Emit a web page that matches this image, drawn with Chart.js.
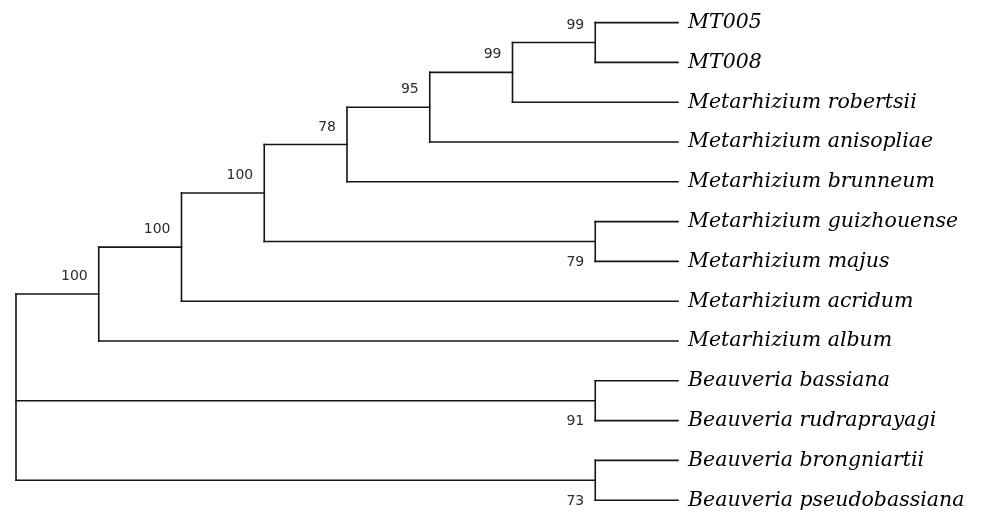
<!DOCTYPE html>
<html>
<head>
<meta charset="utf-8">
<script src="https://cdn.jsdelivr.net/npm/chart.js@4/dist/chart.umd.min.js"></script>
<style>
  html, body { margin: 0; padding: 0; background: #fff; }
  #wrap { width: 983px; height: 512px; }
</style>
</head>
<body>
<div id="wrap"><canvas id="tree" width="983" height="512"></canvas></div>
<script>
// Taxa, top to bottom
const taxa = [
  'MT005',
  'MT008',
  'Metarhizium robertsii',
  'Metarhizium anisopliae',
  'Metarhizium brunneum',
  'Metarhizium guizhouense',
  'Metarhizium majus',
  'Metarhizium acridum',
  'Metarhizium album',
  'Beauveria bassiana',
  'Beauveria rudraprayagi',
  'Beauveria brongniartii',
  'Beauveria pseudobassiana'
];

// Clades: children are taxon indices (numbers) or clade ids ('c#')
const clades = [
  [0, 1],            // c0
  ['c0', 2],         // c1
  ['c1', 3],         // c2
  ['c2', 4],         // c3
  [5, 6],            // c4
  ['c3', 'c4'],      // c5
  ['c5', 7],         // c6
  ['c6', 8],         // c7
  [9, 10],           // c8
  [11, 12],          // c9
  ['c7', 'c8', 'c9'] // c10 (root)
];

// Bootstrap support per clade (root has none)
const support = [99, 99, 95, 78, 79, 100, 100, 100, 91, 73, null];

const ROOT = 'c10';

// ---- layout (topology only: tips aligned, nodes placed by height) ----
const nodes = {};
function place(ref) {
  if (typeof ref === 'number') {
    return nodes['t' + ref] = { id: 't' + ref, tip: ref, y: ref, height: 0, kids: [] };
  }
  const idx = +ref.slice(1);
  const kids = clades[idx].map(place);
  const n = {
    id: ref,
    clade: idx,
    kids,
    y: (kids[0].y + kids[kids.length - 1].y) / 2,
    height: 1 + Math.max(...kids.map(k => k.height))
  };
  kids.forEach((k, i) => { k.parent = n; k.order = i; });
  return nodes[ref] = n;
}
const root = place(ROOT);
const depth = root.height;
Object.values(nodes).forEach(n => { n.x = depth - n.height; });

// ---- branch segments as line datasets ----
const ink = '#151515';
const datasets = [];
function seg(a, b) {
  datasets.push({
    data: [a, b],
    showLine: true,
    borderColor: ink,
    borderWidth: 1.6,
    borderCapStyle: 'square',
    pointRadius: 0,
    pointHoverRadius: 0,
    fill: false
  });
}
Object.values(nodes).forEach(n => {
  if (n.parent) seg({ x: n.parent.x, y: n.y }, { x: n.x, y: n.y });
  if (n.kids.length) seg({ x: n.x, y: n.kids[0].y }, { x: n.x, y: n.kids[n.kids.length - 1].y });
});

// ---- labels ----
const labelPlugin = {
  id: 'treeLabels',
  afterDatasetsDraw(chart) {
    const { ctx, scales: { x, y } } = chart;
    ctx.save();
    // taxon names
    ctx.fillStyle = '#000';
    ctx.font = 'italic 20.5px "DejaVu Serif"';
    ctx.textAlign = 'left';
    ctx.textBaseline = 'middle';
    const tipX = x.getPixelForValue(depth) + 10;
    taxa.forEach((name, i) => ctx.fillText(name, tipX, y.getPixelForValue(i)));
    // bootstrap values
    ctx.fillStyle = '#2b2b2b';
    ctx.font = '14px "DejaVu Sans"';
    ctx.textAlign = 'right';
    Object.values(nodes).forEach(n => {
      if (n.clade === undefined) return;
      const v = support[n.clade];
      if (v == null) return;
      const px = x.getPixelForValue(n.x) - 11;
      const py = y.getPixelForValue(n.y) + (n.order === 0 ? -17.5 : 21);
      ctx.fillText(String(v), px, py);
    });
    ctx.restore();
  }
};

new Chart(document.getElementById('tree'), {
  type: 'scatter',
  data: { datasets },
  options: {
    responsive: false,
    animation: false,
    layout: { padding: 0 },
    plugins: { legend: { display: false }, tooltip: { enabled: false } },
    events: [],
    scales: {
      x: { type: 'linear', display: false, min: -16 / 82.75, max: (983 - 16) / 82.75 },
      y: { type: 'linear', display: false, reverse: true, min: -22.6 / 39.8, max: (512 - 22.6) / 39.8 }
    }
  },
  plugins: [labelPlugin]
});
</script>
</body>
</html>
